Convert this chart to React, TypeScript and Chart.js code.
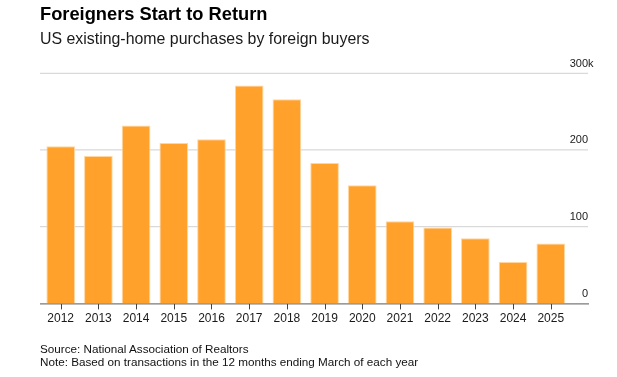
import React, { useEffect, useRef } from "react";
import { Chart, registerables } from "chart.js";

Chart.register(...registerables);

const years = ["2012", "2013", "2014", "2015", "2016", "2017", "2018", "2019", "2020", "2021", "2022", "2023", "2024", "2025"];
const purchasesK = [205, 192, 232, 209, 214, 284, 266, 183, 154, 107, 99, 85, 54, 78];
const yTicks = [0, 100, 200, 300];
const yTopSuffix = "k";

const FONT = '"Liberation Sans", Arial, sans-serif';

const decorPlugin = {
  id: "decor",
  beforeDatasetsDraw(chart: any) {
    const ctx = chart.ctx;
    const y = chart.scales.y;
    ctx.save();
    ctx.strokeStyle = "#d9d9d9";
    ctx.lineWidth = 1.3;
    for (const v of yTicks) {
      if (v === 0) continue;
      const py = y.getPixelForValue(v);
      ctx.beginPath();
      ctx.moveTo(40, py);
      ctx.lineTo(588, py);
      ctx.stroke();
    }
    ctx.restore();
  },
  afterDatasetsDraw(chart: any) {
    const ctx = chart.ctx;
    const x = chart.scales.x;
    const y = chart.scales.y;
    const base = y.getPixelForValue(0) + 0.6;
    ctx.save();
    ctx.strokeStyle = "#7a7a7a";
    ctx.lineWidth = 1.3;
    ctx.beginPath();
    ctx.moveTo(40, base);
    ctx.lineTo(589, base);
    ctx.stroke();
    ctx.strokeStyle = "#444";
    ctx.lineWidth = 1;
    ctx.fillStyle = "#1a1a1a";
    ctx.font = `12px ${FONT}`;
    ctx.textAlign = "center";
    ctx.textBaseline = "alphabetic";
    years.forEach((lab, i) => {
      const px = Math.round(x.getPixelForValue(i)) + 0.5;
      ctx.beginPath();
      ctx.moveTo(px, base);
      ctx.lineTo(px, base + 5.5);
      ctx.stroke();
      ctx.fillText(lab, x.getPixelForValue(i), 321.7);
    });
    ctx.font = `11px ${FONT}`;
    ctx.fillStyle = "#1a1a1a";
    yTicks.forEach((v, i) => {
      const py = y.getPixelForValue(v) - 6.7;
      const txt = String(v);
      ctx.textAlign = "right";
      ctx.fillText(txt, 588, py);
      if (i === yTicks.length - 1) {
        ctx.textAlign = "left";
        ctx.fillText(yTopSuffix, 588, py);
      }
    });
    ctx.restore();
  },
};

export default function App() {
  const ref = useRef<HTMLCanvasElement>(null);
  useEffect(() => {
    if (!ref.current) return;
    const chart = new Chart(ref.current, {
      type: "bar",
      data: {
        labels: years,
        datasets: [
          {
            data: purchasesK,
            backgroundColor: "#ffa12b",
            borderColor: "#ffd6a0",
            borderWidth: 1,
            borderSkipped: "bottom",
            barPercentage: 0.76,
            categoryPercentage: 1,
          },
        ],
      },
      options: {
        responsive: false,
        animation: false,
        events: [],
        layout: { padding: { left: 41.85, right: 47.4, top: 73.3, bottom: 73.7 } },
        plugins: { legend: { display: false }, tooltip: { enabled: false }, title: { display: false } },
        scales: {
          x: { display: false, offset: true },
          y: { display: false, min: 0, max: 300 },
        },
      },
      plugins: [decorPlugin],
    });
    return () => chart.destroy();
  }, []);

  const text = (extra: React.CSSProperties): React.CSSProperties => ({
    position: "absolute",
    left: 40,
    margin: 0,
    whiteSpace: "nowrap",
    fontFamily: FONT,
    ...extra,
  });

  return (
    <div style={{ position: "absolute", left: 0, top: 0, width: 617, height: 377, background: "#fff", overflow: "hidden" }}>
      <canvas ref={ref} width={617} height={377} style={{ position: "absolute", left: 0, top: 0, width: 617, height: 377 }} />
      <div style={text({ top: 5.4, fontSize: 18.3, lineHeight: "18.3px", fontWeight: 700, color: "#000" })}>Foreigners Start to Return</div>
      <div style={text({ top: 30.5, fontSize: 15.9, lineHeight: "15.9px", color: "#1a1a1a" })}>US existing-home purchases by foreign buyers</div>
      <div style={text({ top: 342.8, fontSize: 11.7, lineHeight: "11.7px", color: "#111" })}>Source: National Association of Realtors</div>
      <div style={text({ top: 356.1, fontSize: 11.7, lineHeight: "11.7px", color: "#111" })}>Note: Based on transactions in the 12 months ending March of each year</div>
    </div>
  );
}
